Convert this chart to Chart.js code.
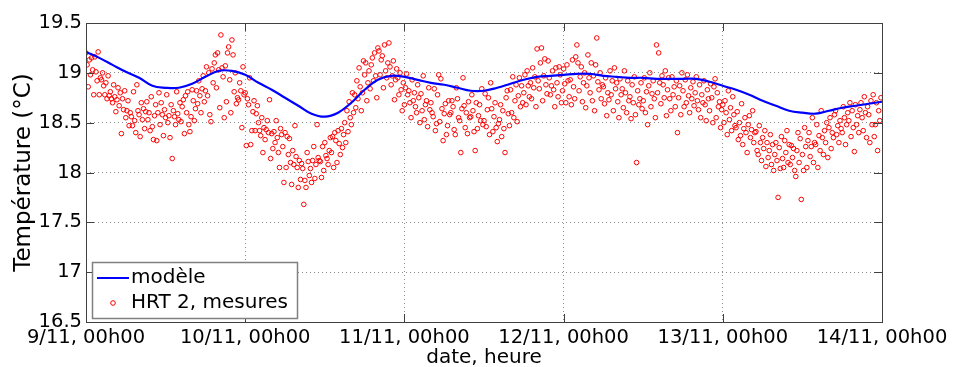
<!DOCTYPE html>
<html>
<head>
<meta charset="utf-8">
<script src="https://cdn.jsdelivr.net/npm/chart.js@4/dist/chart.umd.min.js"></script>
<style>
  html, body { margin: 0; padding: 0; background: #fff; }
  #wrap { width: 955px; height: 367px; }
</style>
</head>
<body>
<div id="wrap"><canvas id="myChart" width="955" height="367"></canvas></div>
<script>
// axe des temps en heures depuis le 9/11 00h00
const tickLabels = ['9/11, 00h00', '10/11, 00h00', '11/11, 00h00', '12/11, 00h00', '13/11, 00h00', '14/11, 00h00'];
const yTicks = [16.5, 17, 17.5, 18, 18.5, 19, 19.5];

// modèle : une valeur toutes les 2 heures
const pasModele = 2;
const modele = [
    19.21, 19.15, 19.08, 19.01, 18.95, 18.87, 18.85, 18.85, 18.89, 18.96,
    19.02, 19.02, 18.98, 18.90, 18.83, 18.75, 18.67, 18.59, 18.56, 18.60,
    18.70, 18.83, 18.93, 18.97, 18.96, 18.93, 18.90, 18.88, 18.85, 18.82,
    18.82, 18.85, 18.89, 18.93, 18.96, 18.97, 18.98, 18.99, 18.99, 18.97,
    18.96, 18.95, 18.95, 18.94, 18.94, 18.94, 18.94, 18.91, 18.87, 18.83,
    18.78, 18.72, 18.67, 18.62, 18.60, 18.59, 18.62, 18.65, 18.67, 18.69,
    18.71
];

// HRT 2, mesures : une valeur toutes les 10 minutes (une ligne = une heure)
const pasMesures = 10;
const mesures = [
    19.20, 19.08, 18.86, 19.13, 18.98, 19.15,
    19.03, 18.78, 19.16, 19.01, 18.92, 19.21,
    18.78, 18.95, 18.93, 19.00, 18.87, 18.78,
    18.90, 18.74, 18.97, 18.77, 18.81, 18.74,
    18.70, 18.88, 18.76, 18.61, 18.73, 18.85,
    18.67, 18.80, 18.39, 18.74, 18.63, 18.82,
    18.55, 18.62, 18.72, 18.47, 18.60, 18.56,
    18.47, 18.81, 18.52, 18.40, 18.88, 18.62,
    18.58, 18.36, 18.70, 18.53, 18.64, 18.44,
    18.61, 18.71, 18.53, 18.60, 18.42, 18.76,
    18.46, 18.33, 18.57, 18.68, 18.32, 18.60,
    18.80, 18.48, 18.70, 18.58, 18.37, 18.63,
    18.55, 18.78, 18.50, 18.57, 18.35, 18.68,
    18.14, 18.62, 18.56, 18.48, 18.81, 18.59,
    18.53, 18.70, 18.51, 18.66, 18.73, 18.39,
    18.77, 18.60, 18.81, 18.48, 18.41, 18.56,
    18.83, 18.72, 18.52, 18.64, 18.82, 18.69,
    18.92, 18.77, 18.60, 18.84, 18.97, 18.71,
    18.82, 19.06, 18.77, 19.00, 18.58, 18.51,
    19.04, 18.90, 19.10, 19.18, 18.85, 19.20,
    19.03, 18.65, 19.38, 19.05, 18.96, 18.55,
    19.07, 18.71, 19.20, 19.26, 18.93, 18.60,
    19.33, 19.18, 18.81, 19.00, 18.69, 18.75,
    18.73, 18.90, 18.82, 18.45, 19.06, 18.78,
    18.80, 18.27, 18.74, 18.68, 18.95, 18.28,
    18.42, 18.61, 18.72, 18.42, 18.59, 18.67,
    18.50, 18.42, 18.37, 18.55, 18.20, 18.45,
    18.33, 18.43, 18.52, 18.40, 18.73, 18.14,
    18.39, 18.24, 18.41, 18.30, 18.52, 18.35,
    18.20, 18.05, 18.44, 18.38, 18.26, 17.90,
    18.40, 18.05, 18.36, 18.18, 18.34, 18.10,
    17.88, 18.22, 18.08, 18.47, 18.16, 18.05,
    17.85, 18.12, 17.93, 18.09, 18.04, 17.68,
    17.92, 17.85, 18.20, 18.11, 17.97, 18.04,
    17.90, 18.12, 18.26, 17.94, 18.08, 18.48,
    18.15, 18.12, 18.11, 17.95, 18.26, 18.02,
    18.30, 18.17, 18.14, 18.08, 18.22, 18.35,
    18.20, 18.36, 18.05, 18.40, 18.32, 18.10,
    18.42, 18.29, 18.18, 18.44, 18.25, 18.38,
    18.50, 18.30, 18.62, 18.41, 18.71, 18.55,
    18.48, 18.80, 18.60, 18.78, 18.65, 18.92,
    18.74, 19.05, 18.86, 18.62, 18.80, 19.12,
    18.98, 19.10, 18.72, 18.90, 19.02, 18.84,
    19.08, 19.15, 18.92, 19.20, 18.97, 18.75,
    19.25, 19.22, 18.98, 19.13, 19.17, 18.85,
    19.28, 19.02, 18.95, 19.10, 19.30, 19.06,
    18.88, 18.97, 19.12, 18.73, 18.93, 19.04,
    18.95, 18.78, 19.00, 18.83, 18.62, 18.90,
    18.68, 18.85, 18.99, 18.78, 18.82, 18.70,
    18.55, 18.93, 18.72, 18.80, 18.66, 18.60,
    18.88, 18.75, 18.50, 18.79, 18.62, 18.97,
    18.53, 18.68, 18.72, 18.46, 18.85, 18.63,
    18.70, 18.60, 18.56, 18.84, 18.42, 18.49,
    18.78, 18.98, 18.51, 18.94, 18.64, 18.32,
    18.59, 18.69, 18.38, 18.47, 18.72, 18.58,
    18.60, 18.72, 18.66, 18.43, 18.38, 18.85,
    18.74, 18.55, 18.52, 18.20, 18.64, 18.95,
    18.67, 18.45, 18.60, 18.39, 18.71, 18.55,
    18.56, 18.78, 18.62, 18.41, 18.22, 18.70,
    18.44, 18.57, 18.68, 18.52, 18.84, 18.48,
    18.52, 18.79, 18.46, 18.63, 18.75, 18.38,
    18.90, 18.64, 18.41, 18.56, 18.70, 18.45,
    18.31, 18.49, 18.53, 18.68, 18.36, 18.62,
    18.44, 18.20, 18.75, 18.82, 18.59, 18.47,
    18.83, 18.60, 18.96, 18.55, 18.72, 18.88,
    18.51, 18.77, 18.95, 18.66, 18.87, 18.70,
    18.80, 18.98, 18.68, 19.02, 18.87, 18.76,
    18.90, 18.74, 19.05, 18.85, 18.96, 18.66,
    19.24, 18.92, 18.84, 19.10, 19.25, 18.72,
    18.97, 19.14, 18.88, 18.79, 19.12, 18.95,
    18.78, 18.87, 19.02, 18.83, 18.66, 19.05,
    18.90, 18.76, 19.06, 18.98, 18.70, 18.82,
    19.04, 18.89, 18.70, 19.08, 18.92, 18.76,
    18.93, 18.68, 19.13, 18.86, 18.74, 19.16,
    19.28, 19.10, 18.82, 18.96, 19.06, 18.71,
    18.90, 19.00, 18.65, 18.87, 19.18, 18.95,
    18.80, 19.10, 18.72, 18.97, 18.62, 19.08,
    19.35, 18.91, 18.83, 19.00, 18.74, 18.88,
    18.86, 18.69, 18.95, 18.57, 18.80, 18.73,
    19.02, 18.78, 18.92, 18.62, 19.05, 18.84,
    18.90, 18.71, 18.55, 18.94, 18.78, 18.84,
    18.65, 19.02, 18.80, 18.60, 18.92, 18.72,
    18.76, 18.54, 18.88, 18.70, 18.96, 18.58,
    18.10, 18.82, 18.68, 18.74, 18.90, 18.64,
    18.72, 18.95, 18.60, 18.81, 18.48, 18.87,
    19.00, 18.66, 18.79, 18.92, 18.74, 18.55,
    19.28, 18.80, 19.20, 18.90, 18.69, 18.97,
    18.88, 18.75, 19.02, 18.57, 18.83, 18.95,
    18.74, 18.62, 18.96, 18.78, 18.86, 18.66,
    18.92, 18.40, 18.75, 18.87, 18.58, 19.00,
    18.82, 18.66, 18.93, 18.70, 18.98, 18.77,
    18.60, 18.85, 18.74, 18.91, 18.67, 18.80,
    18.96, 18.72, 18.63, 18.88, 18.55, 18.78,
    18.70, 18.92, 18.68, 18.52, 18.83, 18.74,
    18.62, 18.89, 18.75, 18.50, 18.86, 18.94,
    18.55, 18.80, 18.66, 18.71, 18.45, 18.63,
    18.68, 18.50, 18.72, 18.60, 18.38, 18.82,
    18.53, 18.65, 18.42, 18.76, 18.58, 18.47,
    18.45, 18.61, 18.33, 18.50, 18.37, 18.69,
    18.28, 18.44, 18.55, 18.40, 18.20, 18.48,
    18.57, 18.35, 18.43, 18.62, 18.30, 18.40,
    18.41, 18.22, 18.18, 18.47, 18.30, 18.12,
    18.35, 18.24, 18.42, 18.06, 18.30, 18.15,
    18.22, 18.38, 18.08, 18.28, 18.02, 18.18,
    18.30, 18.12, 17.75, 18.25, 18.04, 18.36,
    18.14, 18.05, 18.32, 18.20, 18.42, 18.10,
    18.28, 18.08, 18.27, 18.15, 18.24, 18.02,
    17.96, 18.22, 18.40, 18.10, 18.34, 17.73,
    18.18, 18.02, 18.45, 18.26, 18.05, 18.32,
    18.40, 18.16, 18.26, 18.55, 18.10, 18.30,
    18.28, 18.48, 18.05, 18.37, 18.22, 18.62,
    18.35, 18.18, 18.42, 18.30, 18.50, 18.15,
    18.45, 18.55, 18.24, 18.40, 18.35, 18.58,
    18.62, 18.38, 18.47, 18.30, 18.52, 18.44,
    18.40, 18.66, 18.55, 18.28, 18.48, 18.60,
    18.52, 18.70, 18.36, 18.62, 18.45, 18.21,
    18.68, 18.48, 18.57, 18.40, 18.63, 18.70,
    18.55, 18.42, 18.76, 18.60, 18.35, 18.66,
    18.58, 18.30, 18.72, 18.48, 18.78, 18.36,
    18.48, 18.70, 18.22, 18.62, 18.52, 18.75
];

const FONT = 'DejaVu Sans, Verdana, sans-serif';
const axisColor = '#404040';

// cadre, graduations intérieures et légende façon MATLAB
const matlabBox = {
    id: 'matlabBox',
    afterDraw(chart) {
        const ctx = chart.ctx;
        const a = chart.chartArea;
        const xs = chart.scales.x, ys = chart.scales.y;
        const tl = 8;
        ctx.save();
        ctx.strokeStyle = axisColor;
        ctx.lineWidth = 1;
        ctx.beginPath();
        xs.ticks.forEach(t => {
            const px = Math.round(xs.getPixelForValue(t.value)) + 0.5;
            ctx.moveTo(px, a.bottom); ctx.lineTo(px, a.bottom - tl);
            ctx.moveTo(px, a.top); ctx.lineTo(px, a.top + tl);
        });
        ys.ticks.forEach(t => {
            const py = Math.round(ys.getPixelForValue(t.value)) + 0.5;
            ctx.moveTo(a.left, py); ctx.lineTo(a.left + tl, py);
            ctx.moveTo(a.right, py); ctx.lineTo(a.right - tl, py);
        });
        ctx.stroke();
        ctx.strokeRect(Math.round(a.left) + 0.5, Math.round(a.top) + 0.5,
            Math.round(a.right - a.left), Math.round(a.bottom - a.top));

        // légende
        const lx = a.left + 6, ly = a.bottom - 60, lw = 205, lh = 56;
        ctx.fillStyle = '#fff';
        ctx.fillRect(lx, ly, lw, lh);
        ctx.strokeStyle = '#808080';
        ctx.lineWidth = 1.5;
        ctx.strokeRect(lx + 0.5, ly + 0.5, lw, lh);
        ctx.strokeStyle = '#0000ff';
        ctx.lineWidth = 2;
        ctx.beginPath();
        ctx.moveTo(lx + 5, ly + 16); ctx.lineTo(lx + 37, ly + 16);
        ctx.stroke();
        ctx.strokeStyle = '#ff0000';
        ctx.lineWidth = 1;
        ctx.beginPath();
        ctx.arc(lx + 21, ly + 41, 2.3, 0, Math.PI * 2);
        ctx.stroke();
        ctx.fillStyle = '#000';
        ctx.font = '20px ' + FONT;
        ctx.textBaseline = 'middle';
        ctx.textAlign = 'left';
        ctx.fillText('modèle', lx + 39, ly + 16);
        ctx.fillText('HRT 2, mesures', lx + 39, ly + 41);
        ctx.restore();
    }
};

const ctx = document.getElementById('myChart').getContext('2d');
const myChart = new Chart(ctx, {
    type: 'scatter',
    data: {
        datasets: [{
            type: 'line',
            label: 'modèle',
            data: modele.map((v, i) => ({ x: i * pasModele, y: v })),
            borderColor: '#0000ff',
            borderWidth: 2.2,
            pointRadius: 0,
            tension: 0.4,
            fill: false
        }, {
            label: 'HRT 2, mesures',
            data: mesures.map((v, i) => ({ x: i * pasMesures / 60, y: v })),
            borderColor: '#ff0000',
            backgroundColor: 'rgba(0,0,0,0)',
            borderWidth: 1,
            pointRadius: 2.3,
            pointHoverRadius: 2.3
        }]
    },
    options: {
        responsive: false,
        animation: false,
        layout: { padding: { left: 0, right: 73, top: 23, bottom: 0 } },
        plugins: {
            legend: { display: false },
            tooltip: { enabled: false }
        },
        scales: {
            x: {
                type: 'linear',
                min: 0,
                max: 120,
                afterFit: s => { s.height = 45; },
                afterBuildTicks: s => { s.ticks = tickLabels.map((_, i) => ({ value: i * 24 })); },
                ticks: {
                    autoSkip: false,
                    maxRotation: 0,
                    padding: 4,
                    color: '#000',
                    font: { family: FONT, size: 19.5 },
                    callback: v => tickLabels[Math.round(v / 24)]
                },
                grid: { color: '#8c8c8c', drawTicks: false },
                border: { display: false, dash: [1, 3] },
                title: {
                    display: true,
                    text: 'date, heure',
                    color: '#000',
                    font: { family: FONT, size: 20 },
                    padding: { top: 0, bottom: -3 }
                }
            },
            y: {
                min: 16.5,
                max: 19.5,
                afterFit: s => { s.width = 86; },
                afterBuildTicks: s => { s.ticks = yTicks.map(v => ({ value: v })); },
                ticks: {
                    padding: 4,
                    color: '#000',
                    font: { family: FONT, size: 19.5 },
                    callback: v => String(v)
                },
                grid: { color: '#8c8c8c', drawTicks: false },
                border: { display: false, dash: [1, 3] },
                title: {
                    display: true,
                    text: 'Température (°C)',
                    color: '#000',
                    font: { family: FONT, size: 23 },
                    padding: { top: 10, bottom: 0 }
                }
            }
        }
    },
    plugins: [matlabBox]
});
</script>
</body>
</html>
